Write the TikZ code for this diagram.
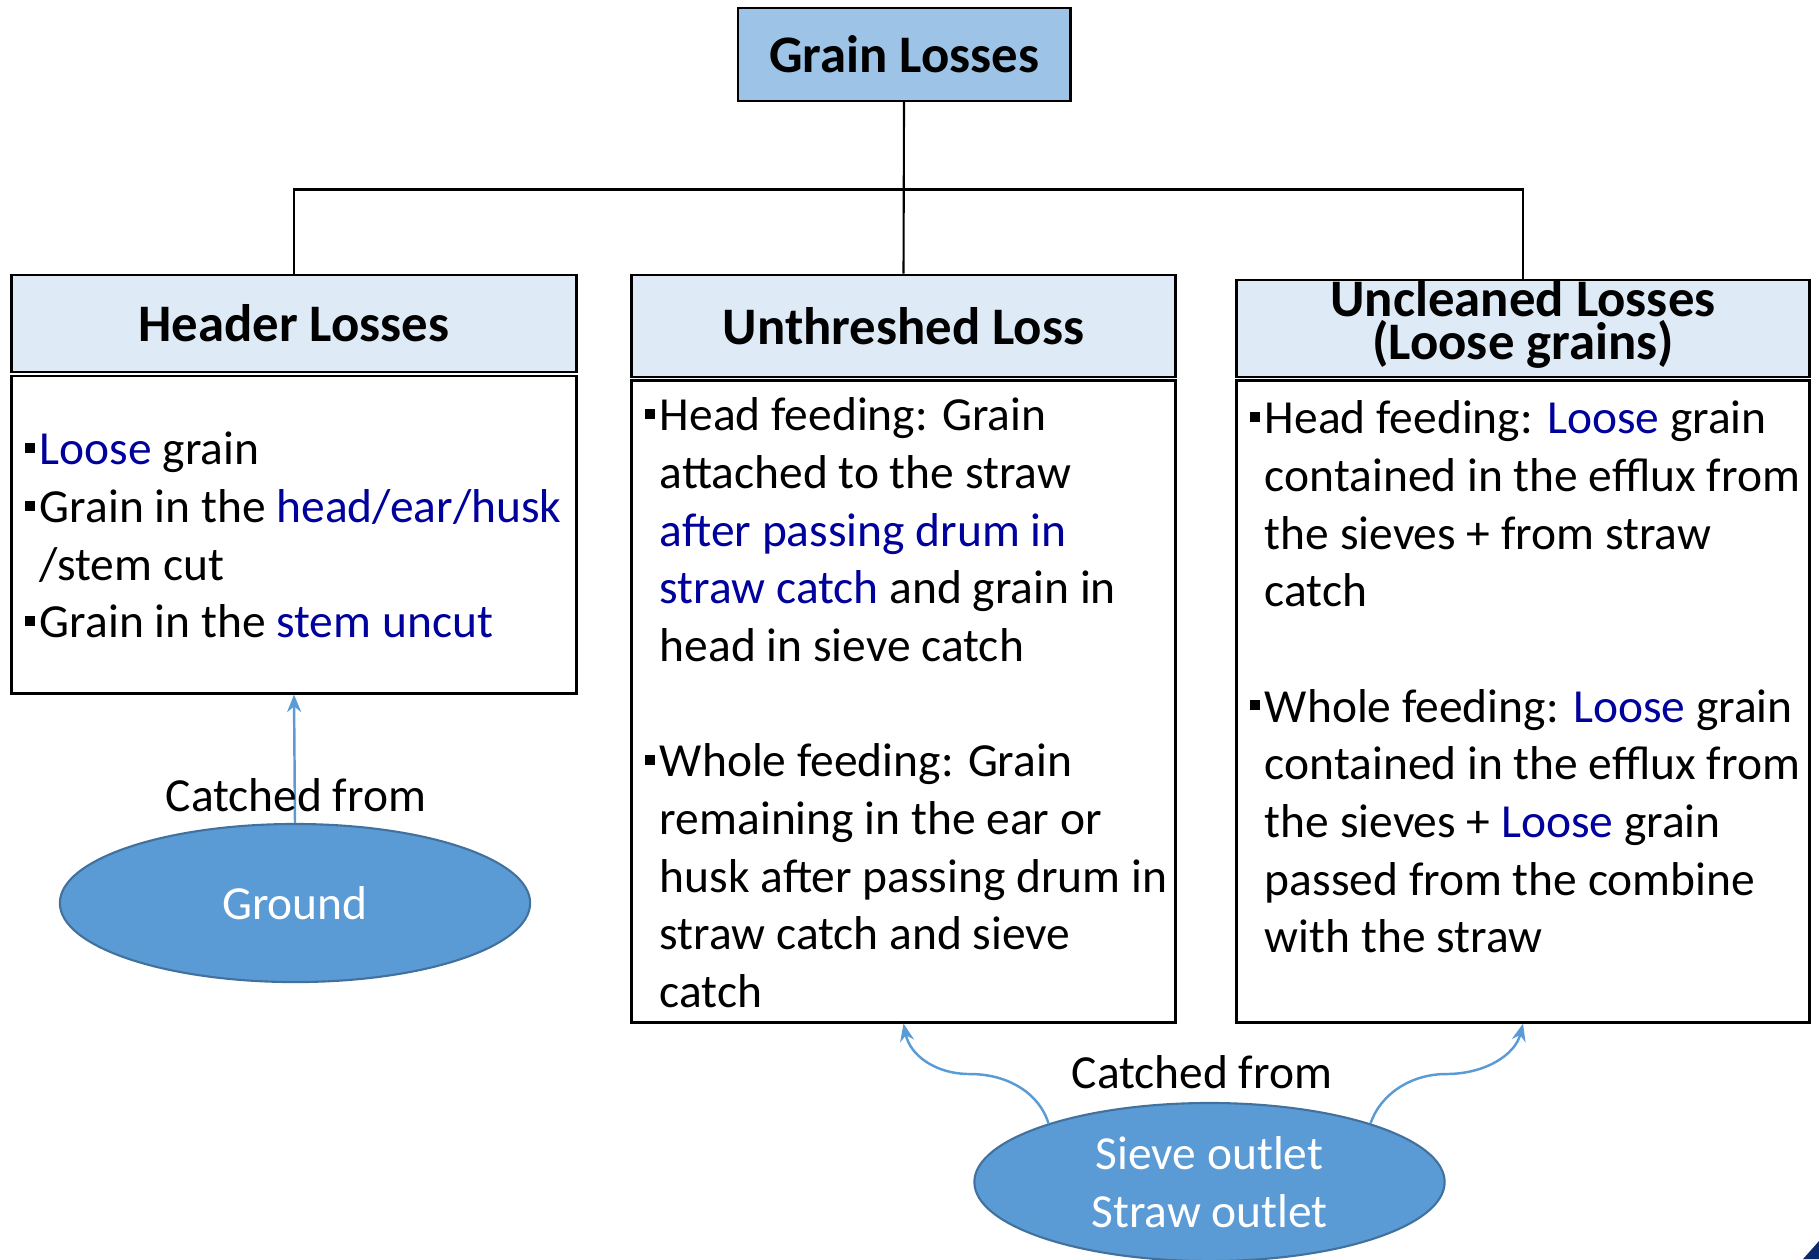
\documentclass[tikz,border=0pt]{standalone}
\usepackage{fontspec}
\setmainfont{Carlito}
\usetikzlibrary{shapes.geometric,arrows.meta}

\definecolor{topfill}{HTML}{9DC3E6}
\definecolor{headfill}{HTML}{DEEBF7}
\definecolor{srcfill}{HTML}{5B9BD5}
\definecolor{srcline}{HTML}{41719C}
\definecolor{hiblue}{HTML}{00009C}
\definecolor{logoblue}{HTML}{0B2A6E}

\newcommand{\bul}{\makebox[0.32em][l]{\rule[0.25em]{0.21em}{0.21em}}}
\newcommand{\ind}{\hspace*{0.32em}}
\newcommand{\hl}[1]{\textcolor{hiblue}{#1}}
\newcommand{\tightlines}{\lineskiplimit-20pt\relax}

\tikzset{
  topbox/.style={draw, line width=0.8pt, fill=topfill, inner sep=0pt,
    font=\bfseries\fontsize{15}{18}\selectfont},
  headbox/.style={draw, line width=0.8pt, fill=headfill, inner sep=0pt},
  headtext/.style={inner sep=0pt, align=center,
    font=\bfseries\fontsize{15}{12}\selectfont\tightlines},
  listbox/.style={draw, line width=0.8pt, inner sep=0pt},
  listtext/.style={anchor=north west, inner sep=0pt, align=left,
    font=\fontsize{13.5}{16.4}\selectfont},
  srcnode/.style={ellipse, draw=srcline, fill=srcfill, line width=0.6pt,
    minimum width=4.7cm, minimum height=1.58cm, inner sep=0pt,
    text=white, align=center, font=\fontsize{13.5}{16.4}\selectfont},
  plainlabel/.style={inner sep=0pt, anchor=base, font=\fontsize{13.5}{16.4}\selectfont},
  link/.style={line width=0.6pt},
  feed/.style={draw=srcfill, line width=0.7pt, -{Stealth[length=5pt,width=4pt]}}
}

\begin{document}
\begin{tikzpicture}[x=0.01cm,y=-0.01cm]
  \useasboundingbox (0,0) rectangle (1819,1259);

  % top of the tree
  \node[topbox, minimum width=3.32cm, minimum height=0.93cm] (grain) at (904,54.5) {Grain Losses};

  % headers
  \node[headbox, minimum width=5.65cm, minimum height=0.97cm] (hdrL) at (294,323.5) {};
  \node[headbox, minimum width=5.43cm, minimum height=1.02cm] (hdrM) at (903.5,326) {};
  \node[headbox, minimum width=5.72cm, minimum height=0.97cm] (hdrR) at (1523,328.5) {};
  \node[headtext] at (hdrL) {Header Losses};
  \node[headtext] at (hdrM) {Unthreshed Loss};
  \node[headtext] at (1523,324) {Uncleaned Losses\\(Loose grains)};

  % content boxes
  \node[listbox, minimum width=5.65cm, minimum height=3.17cm] (boxL) at (294,534.5) {};
  \node[listbox, minimum width=5.43cm, minimum height=6.41cm] (boxM) at (903.5,701.5) {};
  \node[listbox, minimum width=5.72cm, minimum height=6.41cm] (boxR) at (1523,701.5) {};

  \node[listtext] (txtL) at (24,423.6) {\strut\bul\hl{Loose} grain\\
    \bul Grain in the \hl{head/ear/husk}\\
    \ind/stem cut\\
    \bul Grain in the \hl{stem uncut}};
  \node[listtext] (txtM) at (644,389.6) {\strut\bul Head feeding: Grain\\
    \ind attached to the straw\\
    \ind\hl{after passing drum in}\\
    \ind\hl{straw catch} and grain in\\
    \ind head in sieve catch\\
    \mbox{}\\
    \bul Whole feeding: Grain\\
    \ind remaining in the ear or\\
    \ind husk after passing drum in\\
    \ind straw catch and sieve\\
    \ind catch};
  \node[listtext] (txtR) at (1249,392.6) {\strut\bul Head feeding: \hl{Loose} grain\\
    \ind contained in the efflux from\\
    \ind the sieves + from straw\\
    \ind catch\\
    \mbox{}\\
    \bul Whole feeding: \hl{Loose} grain\\
    \ind contained in the efflux from\\
    \ind the sieves + \hl{Loose} grain\\
    \ind passed from the combine\\
    \ind with the straw};

  % tree lines
  \draw[link] (grain.south) -- ++(0,87) -| (hdrL.north);
  \draw[link] (grain.south) -- ++(0,87) -| (hdrR.north);
  \draw[link] (grain.south) -- (hdrM.north);

  % sources
  \node[srcnode] (ground) at (295,903) {Ground};
  \node[srcnode] (sieve) at (1209.5,1182) {Sieve outlet\\Straw outlet};

  \draw[feed] (ground.north) -- (boxL.south);
  \node[plainlabel] (catchL) at (296,811) {Catched from};
  \node[plainlabel] (catchR) at (1202,1088) {Catched from};

  \draw[feed] (sieve.160) .. controls (1040,1095) and (1010,1074) .. (970,1074)
    .. controls (935,1074) and (910,1055) .. (boxM.south);
  \draw[feed] (sieve.20) .. controls (1380,1095) and (1410,1074) .. (1446,1074)
    .. controls (1485,1074) and (1515,1055) .. (boxR.south);

  % corner mark
  \fill[logoblue] (1803,1259) -- (1819,1241) -- (1819,1259) -- cycle;
\end{tikzpicture}
\end{document}
